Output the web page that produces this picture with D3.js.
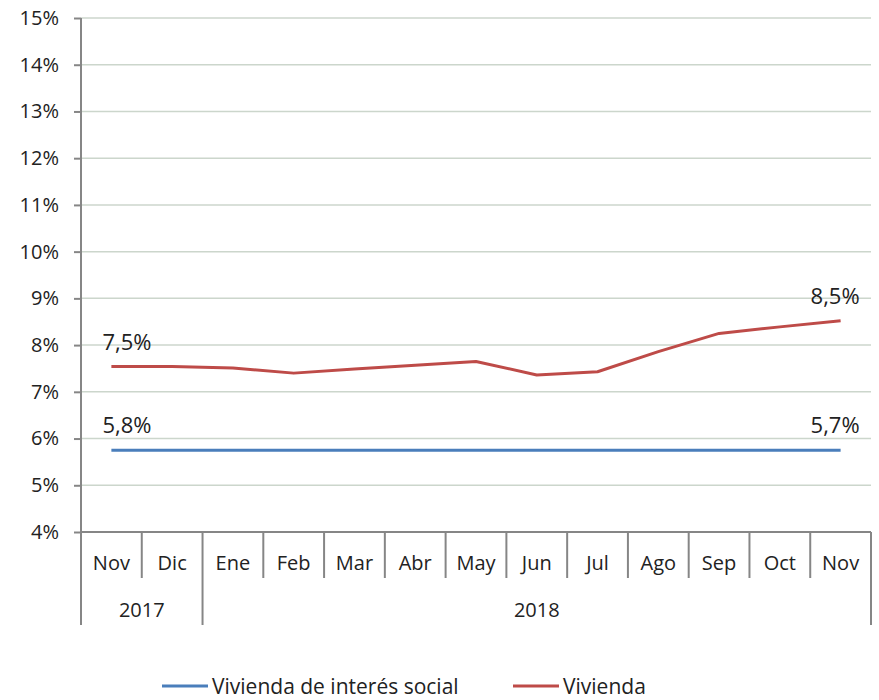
<!DOCTYPE html>
<html>
<head>
<meta charset="utf-8">
<script src="https://cdn.jsdelivr.net/npm/d3@7"></script>
<style>
    body { margin: 0; background: #fff; }
    text { font-family: "Open Sans", sans-serif; fill: #222; }
</style>
</head>
<body>
<div class="view1"></div>
<script>
// Month categories (Nov 2017 - Nov 2018)
const months = ["Nov", "Dic", "Ene", "Feb", "Mar", "Abr", "May", "Jun", "Jul", "Ago", "Sep", "Oct", "Nov"];
// Year groups: label, first month index, end index (exclusive)
const years = [["2017", 0, 2], ["2018", 2, 13]];
// Series values in percent
const visValues = [5.75, 5.75, 5.75, 5.75, 5.75, 5.75, 5.75, 5.75, 5.75, 5.75, 5.75, 5.75, 5.75];
const viviendaValues = [7.54, 7.54, 7.51, 7.40, 7.49, 7.57, 7.65, 7.36, 7.43, 7.86, 8.25, 8.39, 8.52];
const seriesNames = ["Vivienda de interés social", "Vivienda"];
// Data labels: series index, point index, text
const pointLabels = [[0, 0, "5,8%"], [0, 12, "5,7%"], [1, 0, "7,5%"], [1, 12, "8,5%"]];
const yTicks = [4, 5, 6, 7, 8, 9, 10, 11, 12, 13, 14, 15];

class LineChart {

    constructor(){
        this.width = 879;
        this.height = 700;
        this.margin = {top: 18, left: 81, right: 8, bottom: 168};
        this.colors = ["#4a7ebb", "#be4b48"];
    }

    draw(){
        let svg = d3.select(".view1").append("svg")
            .attr("width", this.width)
            .attr("height", this.height);

        let x0 = this.margin.left, x1 = this.width - this.margin.right;
        let yTop = this.margin.top, yBot = this.height - this.margin.bottom;

        let x = d3.scaleBand().domain(d3.range(months.length)).range([x0, x1]).padding(0);
        let y = d3.scaleLinear().domain([4, 15]).range([yBot, yTop]);

        //gridlines
        svg.append("g").selectAll("line")
            .data(yTicks.slice(1))
            .join("line")
            .attr("x1", x0).attr("x2", x1)
            .attr("y1", d => y(d)).attr("y2", d => y(d))
            .attr("stroke", "#ccd6cc").attr("stroke-width", 1.5);

        //y axis
        let yAxis = svg.append("g")
            .attr("transform", "translate(" + x0 + ",0)")
            .call(d3.axisLeft(y).tickValues(yTicks).tickFormat(d => d + "%").tickSize(7).tickPadding(15));
        yAxis.select(".domain").remove();
        yAxis.selectAll("line").attr("stroke", "#868686").attr("stroke-width", 2);
        yAxis.selectAll("text").style("font-size", "20px").attr("fill", "#222");

        //axis lines
        let axisColor = "#868686";
        svg.append("line")
            .attr("x1", x0).attr("x2", x0).attr("y1", yTop).attr("y2", 625)
            .attr("stroke", axisColor).attr("stroke-width", 2);
        svg.append("line")
            .attr("x1", x0).attr("x2", x1).attr("y1", yBot).attr("y2", yBot)
            .attr("stroke", axisColor).attr("stroke-width", 2);

        //month separators, long ones where a year starts
        let yearEdges = years.map(d => d[1]).concat([months.length]);
        svg.append("g").selectAll("line")
            .data(d3.range(1, months.length + 1))
            .join("line")
            .attr("x1", i => i == months.length ? x1 : x(i))
            .attr("x2", i => i == months.length ? x1 : x(i))
            .attr("y1", yBot)
            .attr("y2", i => yearEdges.includes(i) ? 625 : 578)
            .attr("stroke", axisColor).attr("stroke-width", 2);

        svg.append("g").selectAll("text")
            .data(months)
            .join("text")
            .attr("x", (d, i) => x(i) + x.bandwidth() / 2)
            .attr("y", 570)
            .attr("text-anchor", "middle")
            .style("font-size", "20px")
            .text(d => d);

        svg.append("g").selectAll("text")
            .data(years)
            .join("text")
            .attr("x", d => (x(d[1]) + (d[2] == months.length ? x1 : x(d[2]))) / 2)
            .attr("y", 617)
            .attr("text-anchor", "middle")
            .style("font-size", "20px")
            .text(d => d[0]);

        //lines
        let series = [visValues, viviendaValues];
        let line = d3.line()
            .x((d, i) => x(i) + x.bandwidth() / 2)
            .y(d => y(d));
        svg.append("g").selectAll("path")
            .data(series)
            .join("path")
            .attr("d", d => line(d))
            .attr("fill", "none")
            .attr("stroke", (d, i) => this.colors[i])
            .attr("stroke-width", 3)
            .attr("stroke-linejoin", "round");

        //data labels
        svg.append("g").selectAll("text")
            .data(pointLabels)
            .join("text")
            .attr("x", d => x(d[1]) + x.bandwidth() / 2 + (d[1] == 0 ? -9 : 19))
            .attr("y", d => y(series[d[0]][d[1]]) - 17)
            .attr("text-anchor", d => d[1] == 0 ? "start" : "end")
            .style("font-size", "22px")
            .text(d => d[2]);

        //legend
        let legendX = [162, 513];
        let legend = svg.append("g").selectAll("g")
            .data(seriesNames)
            .join("g")
            .attr("transform", (d, i) => "translate(" + legendX[i] + ",686)");
        legend.append("line")
            .attr("x1", 0).attr("x2", 46)
            .attr("stroke", (d, i) => this.colors[i])
            .attr("stroke-width", 3);
        legend.append("text")
            .attr("x", 50)
            .attr("y", 8)
            .style("font-size", "21px")
            .text(d => d);
    }
}

let chart = new LineChart();
chart.draw();
</script>
</body>
</html>
